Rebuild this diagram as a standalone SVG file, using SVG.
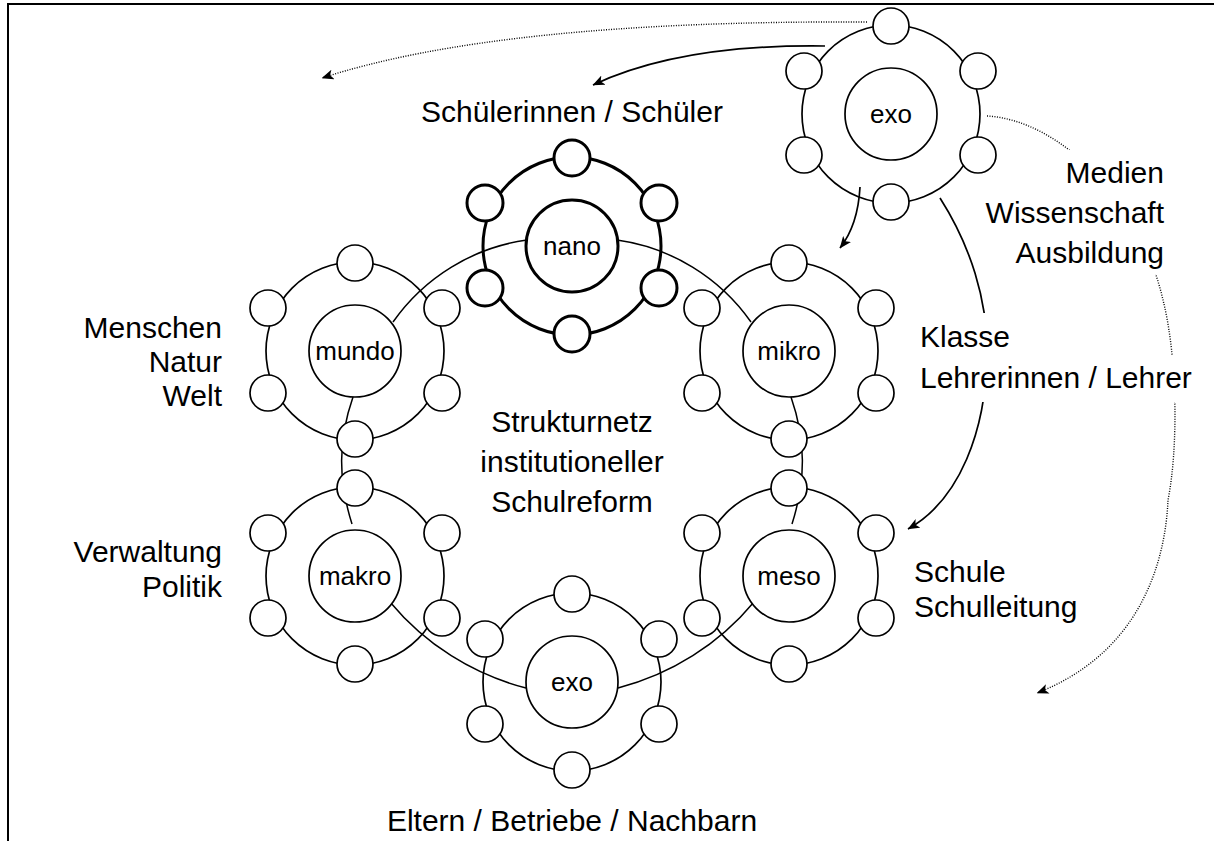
<svg xmlns="http://www.w3.org/2000/svg" width="1214" height="841" viewBox="0 0 1214 841">
<style>
  .ring{fill:none;stroke:#000;stroke-width:1.7}
  .inner,.sat{fill:#fff;stroke:#000;stroke-width:1.7}
  .thick .ring,.thick .inner,.thick .sat{stroke-width:3}
  text{font-family:"Liberation Sans",Arial,Helvetica,sans-serif;fill:#000}
  .in{font-size:26px;text-anchor:middle}
  .lbl{font-size:30px}
  .mid{text-anchor:middle}
  .end{text-anchor:end}
  .edge{fill:none;stroke:#000;stroke-width:1.5}
  .arr{fill:none;stroke:#000;stroke-width:1.7}
  .dot{fill:none;stroke:#000;stroke-width:1.4;stroke-dasharray:1 1.5}
  .frame{fill:none;stroke:#000;stroke-width:2}
</style>
<defs>
  <marker id="head" viewBox="0 0 12 10" markerWidth="12" markerHeight="10" refX="11.5" refY="5" orient="auto" markerUnits="userSpaceOnUse">
    <path d="M0,0 L12,5 L0,10 L3,5 Z" fill="#000"/>
  </marker>
  <mask id="lblmask" maskUnits="userSpaceOnUse" x="0" y="0" width="1214" height="841">
    <rect x="0" y="0" width="1214" height="841" fill="#fff"/>
    <rect x="1058" y="150" width="110" height="40" fill="#000"/>
    <rect x="980" y="190" width="188" height="40" fill="#000"/>
    <rect x="1010" y="230" width="158" height="44" fill="#000"/>
    <rect x="916" y="313" width="98" height="42" fill="#000"/>
    <rect x="916" y="355" width="284" height="47" fill="#000"/>
  </mask>
</defs>

<rect class="frame" x="8" y="4" width="1300" height="900"/>

<g id="connectors">
  <!-- structure ring -->
  <path class="edge" d="M527,240 A197,197 0 0 0 393,322"/>
  <path class="edge" d="M617,240 A197,197 0 0 1 751,322"/>
  <path class="edge" d="M353,397 C338,440 338,480 352,524"/>
  <path class="edge" d="M791,397 C806,440 806,480 792,524"/>
  <path class="edge" d="M390,602 A261.5,261.5 0 0 0 526,688"/>
  <path class="edge" d="M754,602 A261.5,261.5 0 0 1 618,688"/>
  <!-- arrows -->
  <path class="arr" d="M825,46 Q680,44 593,85" marker-end="url(#head)"/>
  <path class="dot" d="M867,22 Q500,20 322,78" marker-end="url(#head)"/>
  <path class="arr" d="M860,187 Q858,225 840,248" marker-end="url(#head)"/>
  <g mask="url(#lblmask)">
    <path class="arr" d="M940,198 C970,245 988,300 987,355 C986,430 960,500 908,529" marker-end="url(#head)"/>
    <path class="dot" d="M987,116 C1060,120 1140,200 1163,300 C1178,360 1178,450 1168,500 C1165,570 1135,655 1037,693" marker-end="url(#head)"/>
  </g>
</g>

<g id="node-nano" class="thick" transform="translate(572,246)">
  <circle class="ring" r="89"/>
  <circle class="inner" r="46"/>
  <circle class="sat" cx="0" cy="-88" r="18"/>
  <circle class="sat" cx="-87" cy="-43" r="18"/>
  <circle class="sat" cx="87" cy="-43" r="18"/>
  <circle class="sat" cx="-87" cy="42" r="18"/>
  <circle class="sat" cx="87" cy="42" r="18"/>
  <circle class="sat" cx="0" cy="88" r="18"/>
  <text class="in" y="9">nano</text>
</g>

<g id="node-mundo" transform="translate(355,351)">
  <circle class="ring" r="89"/>
  <circle class="inner" r="46"/>
  <circle class="sat" cx="0" cy="-88" r="18"/>
  <circle class="sat" cx="-87" cy="-43" r="18"/>
  <circle class="sat" cx="87" cy="-43" r="18"/>
  <circle class="sat" cx="-87" cy="42" r="18"/>
  <circle class="sat" cx="87" cy="42" r="18"/>
  <circle class="sat" cx="0" cy="88" r="18"/>
  <text class="in" y="9">mundo</text>
</g>

<g id="node-mikro" transform="translate(789,351)">
  <circle class="ring" r="89"/>
  <circle class="inner" r="46"/>
  <circle class="sat" cx="0" cy="-88" r="18"/>
  <circle class="sat" cx="-87" cy="-43" r="18"/>
  <circle class="sat" cx="87" cy="-43" r="18"/>
  <circle class="sat" cx="-87" cy="42" r="18"/>
  <circle class="sat" cx="87" cy="42" r="18"/>
  <circle class="sat" cx="0" cy="88" r="18"/>
  <text class="in" y="9">mikro</text>
</g>

<g id="node-makro" transform="translate(355,576)">
  <circle class="ring" r="89"/>
  <circle class="inner" r="46"/>
  <circle class="sat" cx="0" cy="-88" r="18"/>
  <circle class="sat" cx="-87" cy="-43" r="18"/>
  <circle class="sat" cx="87" cy="-43" r="18"/>
  <circle class="sat" cx="-87" cy="42" r="18"/>
  <circle class="sat" cx="87" cy="42" r="18"/>
  <circle class="sat" cx="0" cy="88" r="18"/>
  <text class="in" y="9">makro</text>
</g>

<g id="node-meso" transform="translate(789,576)">
  <circle class="ring" r="89"/>
  <circle class="inner" r="46"/>
  <circle class="sat" cx="0" cy="-88" r="18"/>
  <circle class="sat" cx="-87" cy="-43" r="18"/>
  <circle class="sat" cx="87" cy="-43" r="18"/>
  <circle class="sat" cx="-87" cy="42" r="18"/>
  <circle class="sat" cx="87" cy="42" r="18"/>
  <circle class="sat" cx="0" cy="88" r="18"/>
  <text class="in" y="9">meso</text>
</g>

<g id="node-exo" transform="translate(572,682)">
  <circle class="ring" r="89"/>
  <circle class="inner" r="46"/>
  <circle class="sat" cx="0" cy="-88" r="18"/>
  <circle class="sat" cx="-87" cy="-43" r="18"/>
  <circle class="sat" cx="87" cy="-43" r="18"/>
  <circle class="sat" cx="-87" cy="42" r="18"/>
  <circle class="sat" cx="87" cy="42" r="18"/>
  <circle class="sat" cx="0" cy="88" r="18"/>
  <text class="in" y="9">exo</text>
</g>

<g id="node-exo-top" transform="translate(891,114)">
  <circle class="ring" r="89"/>
  <circle class="inner" r="46"/>
  <circle class="sat" cx="0" cy="-88" r="18"/>
  <circle class="sat" cx="-87" cy="-43" r="18"/>
  <circle class="sat" cx="87" cy="-43" r="18"/>
  <circle class="sat" cx="-87" cy="41" r="18"/>
  <circle class="sat" cx="87" cy="41" r="18"/>
  <circle class="sat" cx="0" cy="88" r="18"/>
  <text class="in" y="9">exo</text>
</g>

<g id="labels">
  <text class="lbl mid" x="572" y="122">Schülerinnen / Schüler</text>
  <text class="lbl end" x="1164"><tspan x="1164" y="183">Medien</tspan><tspan x="1164" y="223">Wissenschaft</tspan><tspan x="1164" y="263">Ausbildung</tspan></text>
  <text class="lbl"><tspan x="920" y="347">Klasse</tspan><tspan x="920" y="388">Lehrerinnen / Lehrer</tspan></text>
  <text class="lbl"><tspan x="914" y="582">Schule</tspan><tspan x="914" y="617">Schulleitung</tspan></text>
  <text class="lbl end"><tspan x="222" y="338">Menschen</tspan><tspan x="222" y="372">Natur</tspan><tspan x="222" y="406">Welt</tspan></text>
  <text class="lbl end"><tspan x="222" y="562">Verwaltung</tspan><tspan x="222" y="597">Politik</tspan></text>
  <text class="lbl mid"><tspan x="572" y="432">Strukturnetz</tspan><tspan x="572" y="472">institutioneller</tspan><tspan x="572" y="512">Schulreform</tspan></text>
  <text class="lbl mid" x="572" y="831">Eltern / Betriebe / Nachbarn</text>
</g>
</svg>
